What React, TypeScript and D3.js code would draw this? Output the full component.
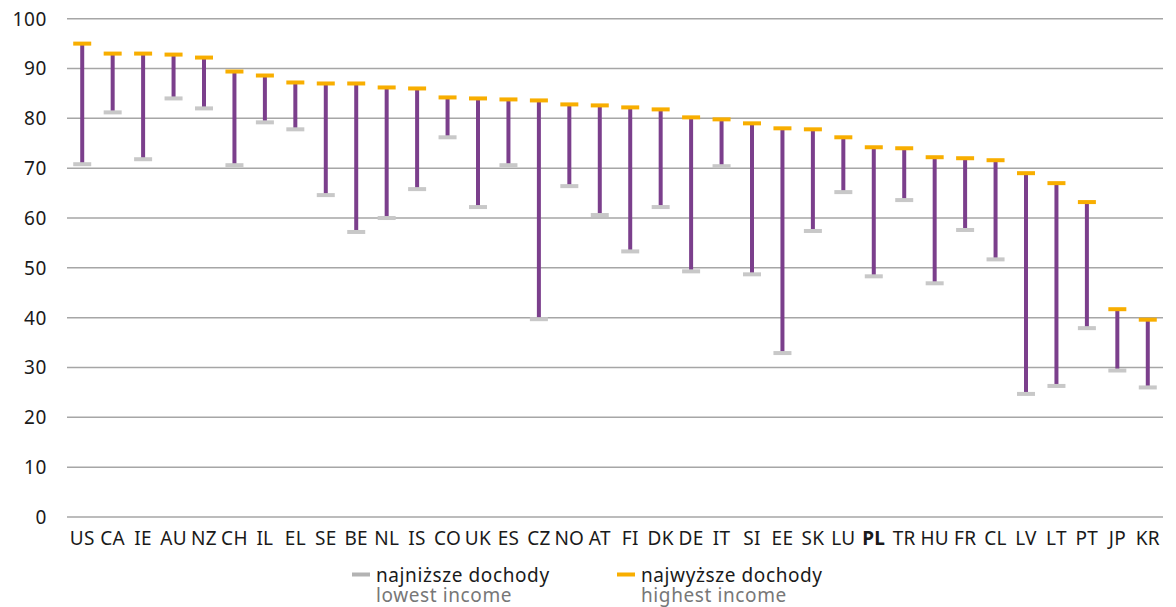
import React from "react";
import * as d3 from "d3";

const countries = ["US","CA","IE","AU","NZ","CH","IL","EL","SE","BE","NL","IS","CO","UK","ES","CZ","NO","AT","FI","DK","DE","IT","SI","EE","SK","LU","PL","TR","HU","FR","CL","LV","LT","PT","JP","KR"];
const highest = [95.0,93.0,93.0,92.8,92.2,89.4,88.6,87.2,87.0,87.0,86.2,86.0,84.2,84.0,83.8,83.6,82.8,82.6,82.2,81.8,80.2,79.8,79.0,78.0,77.8,76.2,74.2,74.0,72.2,72.0,71.6,69.0,67.0,63.2,41.7,39.6];
const lowest = [70.8,81.2,71.8,84.0,82.0,70.6,79.2,77.8,64.6,57.2,60.0,65.8,76.2,62.2,70.6,39.7,66.4,60.6,53.3,62.2,49.3,70.4,48.7,32.9,57.4,65.2,48.3,63.6,46.9,57.6,51.7,24.7,26.3,37.9,29.4,26.0];
const yTicks = [0,10,20,30,40,50,60,70,80,90,100];
const boldCountry = "PL";

const font = "'Noto Sans', 'Open Sans', sans-serif";

export default function App() {
  const W = 1176, H = 607;
  const left = 67, right = 1163, top = 18.7, bottom = 517;
  const x = d3.scaleBand<string>().domain(countries).range([left, right]);
  const y = d3.scaleLinear().domain([0, 100]).range([bottom, top]);
  const capW = 18, capH = 4;

  return (
    <svg width={W} height={H} style={{ position: "absolute", left: 0, top: 0, background: "#fff" }} fontFamily={font}>
      {yTicks.map((t) => (
        <g key={t}>
          <line x1={left} x2={right} y1={y(t)} y2={y(t)} stroke="#a6a6a6" strokeWidth={1.5} />
          <text x={47} y={y(t)} dy="0.36em" textAnchor="end" fontSize={19} letterSpacing={0.6} fill="#1a1a1a">{t}</text>
        </g>
      ))}
      {countries.map((c, i) => {
        const cx = (x(c) as number) + x.bandwidth() / 2;
        return (
          <g key={c}>
            <line x1={cx} x2={cx} y1={y(highest[i])} y2={y(lowest[i])} stroke="#7b3f8c" strokeWidth={4} />
            <rect x={cx - capW / 2} y={y(lowest[i]) - capH / 2} width={capW} height={capH} fill="#c8c8c8" />
            <rect x={cx - capW / 2} y={y(highest[i]) - capH / 2} width={capW} height={capH} fill="#f8ae00" />
            <text x={cx} y={545} textAnchor="middle" fontSize={19} letterSpacing={0.3} fill="#1a1a1a" fontWeight={c === boldCountry ? "bold" : "normal"}>{c}</text>
          </g>
        );
      })}
      <g>
        <rect x={352} y={572.5} width={18} height={4} fill="#b3b3b3" />
        <text x={376} y={582} fontSize={19} letterSpacing={0.6} fill="#1a1a1a">najniższe dochody</text>
        <text x={376} y={602} fontSize={19} letterSpacing={0.6} fill="#777">lowest income</text>
        <rect x={617} y={572.5} width={18} height={4} fill="#f8ae00" />
        <text x={641} y={582} fontSize={19} letterSpacing={0.6} fill="#1a1a1a">najwyższe dochody</text>
        <text x={641} y={602} fontSize={19} letterSpacing={0.6} fill="#777">highest income</text>
      </g>
    </svg>
  );
}
